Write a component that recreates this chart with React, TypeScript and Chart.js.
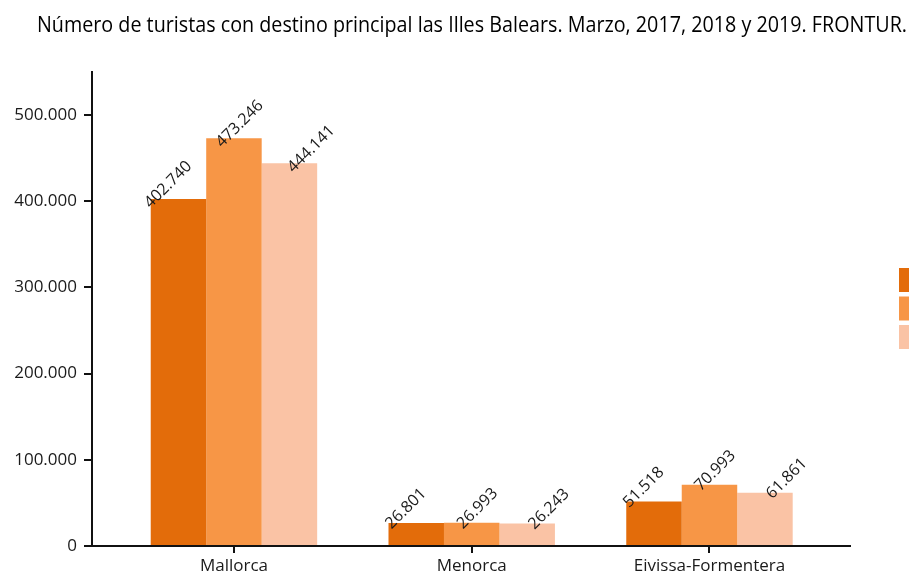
import React, { useEffect, useRef } from 'react';
import { Chart, registerables } from 'chart.js';

Chart.register(...registerables);

const titleText = 'Número de turistas con destino principal las Illes Balears. Marzo, 2017, 2018 y 2019. FRONTUR.';
const categories = ['Mallorca', 'Menorca', 'Eivissa-Formentera'];
const seriesNames = ['2017', '2018', '2019'];
const values2017 = [402740, 26801, 51518];
const values2018 = [473246, 26993, 70993];
const values2019 = [444141, 26243, 61861];
const seriesColors = ['#E36C0A', '#F79646', '#FAC3A5'];
const yTickValues = [0, 100000, 200000, 300000, 400000, 500000];

const fmt = (n: number) => String(Math.round(n)).replace(/\B(?=(\d{3})+(?!\d))/g, '.');

const FONT = '"Open Sans", "Noto Sans", sans-serif';

const titlePlugin = {
  id: 'customTitle',
  afterDraw(chart: any) {
    const ctx = chart.ctx;
    ctx.save();
    ctx.font = `22px ${FONT}`;
    ctx.fillStyle = '#000';
    ctx.textAlign = 'center';
    ctx.textBaseline = 'alphabetic';
    const w = ctx.measureText(titleText).width;
    const sx = 870 / w;
    ctx.translate(472, 31.5);
    ctx.scale(sx, 1);
    ctx.fillText(titleText, 0, 0);
    ctx.restore();
  },
};

const labelPlugin = {
  id: 'valueLabels',
  afterDatasetsDraw(chart: any) {
    const ctx = chart.ctx;
    ctx.save();
    ctx.font = `16px ${FONT}`;
    ctx.fillStyle = '#1a1a1a';
    ctx.textAlign = 'center';
    ctx.textBaseline = 'alphabetic';
    const n = chart.data.datasets.length;
    chart.data.datasets.forEach((ds: any, i: number) => {
      const meta = chart.getDatasetMeta(i);
      meta.data.forEach((el: any, j: number) => {
        const v = ds.data[j].y;
        const cx = el.x + 5 + (i - (n - 1) / 2) * 16;
        const cy = el.y - 15;
        ctx.save();
        ctx.translate(cx, cy);
        ctx.rotate(-Math.PI / 4);
        ctx.fillText(fmt(v), 0, 5.7);
        ctx.restore();
      });
    });
    ctx.restore();
  },
};

const legendPlugin = {
  id: 'sideLegend',
  afterDraw(chart: any) {
    const ctx = chart.ctx;
    ctx.save();
    ctx.font = `16px ${FONT}`;
    ctx.textBaseline = 'middle';
    const x0 = 899;
    const y0 = 268;
    const step = 28.5;
    seriesNames.forEach((name, i) => {
      const y = y0 + i * step;
      ctx.fillStyle = seriesColors[i];
      ctx.fillRect(x0, y, 22, 24);
      ctx.fillStyle = '#1a1a1a';
      ctx.fillText(name, x0 + 28, y + 12);
    });
    ctx.restore();
  },
};

export default function App() {
  const ref = useRef<HTMLCanvasElement | null>(null);

  useEffect(() => {
    if (!ref.current) return;
    const series = [values2017, values2018, values2019];
    const chart = new Chart(ref.current, {
      type: 'bar',
      data: {
        datasets: series.map((vals, i) => ({
          label: seriesNames[i],
          data: vals.map((v, j) => ({ x: j, y: v })),
          backgroundColor: seriesColors[i],
          borderWidth: 0,
          barPercentage: 1,
          categoryPercentage: 0.7,
        })),
      },
      options: {
        responsive: false,
        animation: false,
        devicePixelRatio: 1,
        layout: { padding: { top: 72, left: 0, right: 110, bottom: 0 } },
        plugins: {
          legend: { display: false },
          tooltip: { enabled: false },
          title: { display: false },
        },
        scales: {
          x: {
            type: 'linear',
            offset: false,
            min: -0.597,
            max: 2.591,
            afterBuildTicks: (scale: any) => {
              scale.ticks = categories.map((_, i) => ({ value: i }));
            },
            afterFit: (scale: any) => {
              scale.height = 28;
            },
            ticks: {
              autoSkip: false,
              maxRotation: 0,
              padding: 3,
              color: '#1a1a1a',
              font: { family: FONT, size: 17 },
              callback: (v: any) => categories[Math.round(Number(v))] ?? '',
            },
            grid: {
              offset: false,
              drawOnChartArea: false,
              drawTicks: true,
              tickLength: 7,
              color: '#111',
              lineWidth: 2,
            },
            border: { display: true, color: '#111', width: 2 },
          },
          y: {
            type: 'linear',
            min: 0,
            max: 550000,
            afterBuildTicks: (scale: any) => {
              scale.ticks = yTickValues.map((v) => ({ value: v }));
            },
            afterFit: (scale: any) => {
              scale.width = 92;
            },
            ticks: {
              padding: 7,
              color: '#1a1a1a',
              font: { family: FONT, size: 17 },
              callback: (v: any) => fmt(Number(v)),
            },
            grid: {
              drawOnChartArea: false,
              drawTicks: true,
              tickLength: 8,
              color: '#111',
              lineWidth: 2,
            },
            border: { display: true, color: '#111', width: 2 },
          },
        },
      },
      plugins: [titlePlugin, labelPlugin, legendPlugin],
    } as any);
    return () => chart.destroy();
  }, []);

  return (
    <div style={{ position: 'fixed', left: 0, top: 0, width: 909, height: 574, overflow: 'hidden', background: '#fff' }}>
      <canvas ref={ref} width={960} height={574} style={{ display: 'block', width: 960, height: 574 }} />
    </div>
  );
}
